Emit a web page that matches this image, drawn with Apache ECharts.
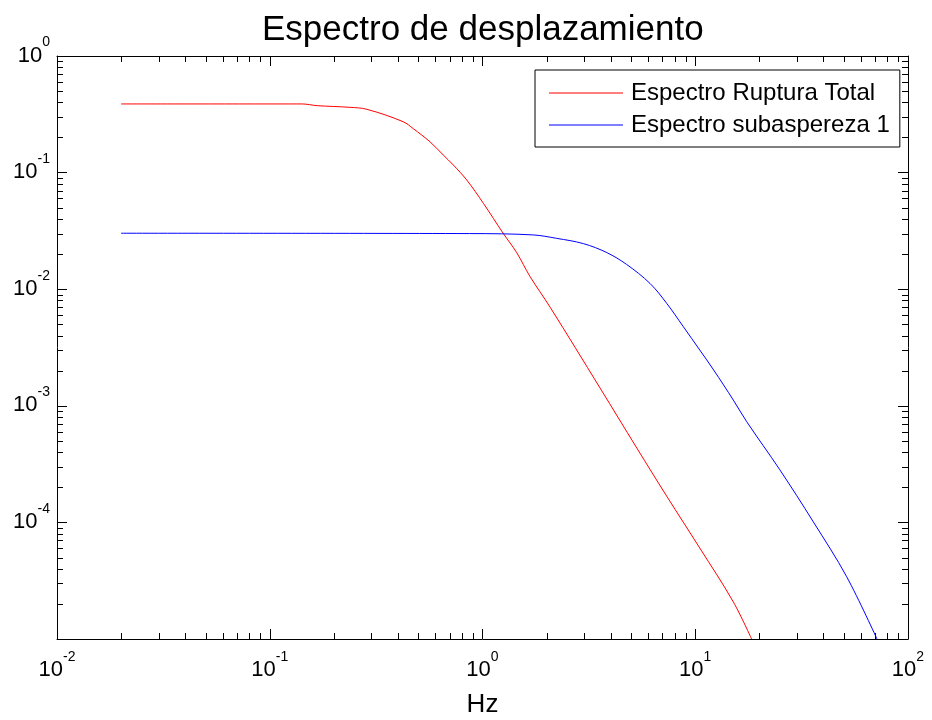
<!DOCTYPE html>
<html>
<head>
<meta charset="utf-8">
<title>Espectro de desplazamiento</title>
<script src="https://cdn.jsdelivr.net/npm/echarts@6/dist/echarts.min.js"></script>
<style>
  html, body { margin: 0; padding: 0; background: #fff; }
  #chart { width: 932px; height: 720px; }
</style>
</head>
<body>
<div id="chart"></div>
<script>
// valores (Hz, desplazamiento)
var redFreq = [0.02, 0.142, 0.167, 0.238, 0.286, 0.424, 0.473, 0.566, 0.654, 0.729, 0.843, 1.01, 1.25, 1.45, 1.67, 2.08, 3.57, 5.31, 7.34, 10.5, 15.1, 18.4];
var redAmp  = [0.388, 0.388, 0.375, 0.363, 0.349, 0.273, 0.238, 0.184, 0.1415, 0.1162, 0.0864, 0.0545, 0.0302, 0.0205, 0.0129, 0.0070, 0.00142, 4.35e-4, 1.68e-4, 6.03e-5, 2.08e-5, 1.0e-5];

var blueFreq = [0.02, 0.87, 1.73, 2.23, 2.98, 3.84, 4.76, 6.13, 7.34, 8.79, 10.5, 12.2, 15.1, 17.45, 25.0, 35.9, 51.5, 71.5];
var blueAmp  = [0.0302, 0.0300, 0.0292, 0.0273, 0.0246, 0.0206, 0.0163, 0.0112, 0.00757, 0.00477, 0.00301, 0.00203, 0.00112, 7.31e-4, 2.82e-4, 1.01e-4, 3.42e-5, 1.0e-5];

var seriesNames = ['Espectro Ruptura Total', 'Espectro subaspereza 1'];

// ejes
var xMin = 0.01, xMax = 100;
var yMin = 1e-5, yMax = 1;
var xDecades = [0.01, 0.1, 1, 10];
var yDecades = [1e-5, 1e-4, 1e-3, 1e-2, 1e-1];
var minorMult = [2, 3, 4, 5, 6, 7, 8, 9];

function pairs(xs, ys) {
  var out = [];
  for (var i = 0; i < xs.length; i++) out.push([xs[i], ys[i]]);
  return out;
}

// marcas menores: [x, y, tipo] tipo 0 = eje x, 1 = eje y
var minorTicks = [];
xDecades.forEach(function (d) {
  minorMult.forEach(function (m) { minorTicks.push([d * m, yMin, 0]); });
});
yDecades.forEach(function (d) {
  minorMult.forEach(function (m) { minorTicks.push([xMin, d * m, 1]); });
});

var FONT = 'Liberation Sans';

function powLabel(v, hideMin) {
  var e = Math.round(Math.log(v) / Math.LN10);
  if (hideMin && e <= -5) return '';
  return '{m|10}{s|' + e + '}';
}

// 10 con exponente arriba
var richPow = {
  m: { fontSize: 22, fontFamily: FONT, color: '#000', lineHeight: 31, verticalAlign: 'bottom' },
  s: { fontSize: 14, fontFamily: FONT, color: '#000', lineHeight: 14, verticalAlign: 'top' }
};

var axisBase = {
  type: 'log',
  logBase: 10,
  interval: 1,
  axisLine: { show: true, lineStyle: { color: '#000', width: 1 } },
  axisTick: { show: true, inside: true, length: 10, lineStyle: { color: '#000' } },
  splitLine: { show: false },
  minorTick: { show: false }
};

var chart = echarts.init(document.getElementById('chart'));

chart.setOption({
  backgroundColor: '#fff',
  animation: false,
  title: {
    text: 'Espectro de desplazamiento',
    left: 257,
    top: 8,
    textStyle: { fontFamily: FONT, fontSize: 35, fontWeight: 'normal', color: '#000' }
  },
  grid: { left: 57, right: 24, top: 56, bottom: 81, outerBoundsMode: 'none' },
  legend: {
    orient: 'vertical',
    left: 535,
    top: 70,
    data: seriesNames,
    icon: 'rect',
    itemWidth: 74,
    itemHeight: 1,
    itemGap: 8,
    padding: [11, 10, 10, 14],
    borderColor: '#000',
    borderWidth: 1,
    borderRadius: 0,
    backgroundColor: '#fff',
    textStyle: { fontFamily: FONT, fontSize: 24, color: '#000', padding: [0, 0, 0, 3] }
  },
  xAxis: [
    Object.assign({}, axisBase, {
      position: 'bottom',
      min: xMin, max: xMax,
      name: 'Hz',
      nameLocation: 'middle',
      nameGap: 53,
      nameTextStyle: { fontFamily: FONT, fontSize: 26, color: '#000' },
      axisLabel: { margin: 11, formatter: function (v) { return powLabel(v, false); }, rich: richPow }
    }),
    Object.assign({}, axisBase, {
      position: 'top',
      min: xMin, max: xMax,
      axisLabel: { show: false }
    })
  ],
  yAxis: [
    Object.assign({}, axisBase, {
      position: 'left',
      min: yMin, max: yMax,
      axisLabel: { margin: 7, padding: [0, 0, 10, 0], formatter: function (v) { return powLabel(v, true); }, rich: richPow }
    }),
    Object.assign({}, axisBase, {
      position: 'right',
      min: yMin, max: yMax,
      axisLabel: { show: false }
    })
  ],
  series: [
    {
      name: seriesNames[0],
      type: 'line',
      data: pairs(redFreq, redAmp),
      symbol: 'none',
      smooth: 0.35,
      lineStyle: { color: '#ff0000', width: 1 },
      itemStyle: { color: '#ff0000' }
    },
    {
      name: seriesNames[1],
      type: 'line',
      data: pairs(blueFreq, blueAmp),
      symbol: 'none',
      smooth: 0.35,
      lineStyle: { color: '#0000ff', width: 1 },
      itemStyle: { color: '#0000ff' }
    },
    {
      type: 'custom',
      silent: true,
      clip: false,
      data: minorTicks,
      renderItem: function (params, api) {
        var kind = api.value(2);
        var len = 6;
        var a, b;
        if (kind === 0) {
          a = api.coord([api.value(0), yMin]);
          b = api.coord([api.value(0), yMax]);
          var x = Math.round(a[0]) + 0.5;
          return {
            type: 'group',
            children: [
              { type: 'line', shape: { x1: x, y1: a[1], x2: x, y2: a[1] - len }, style: { stroke: '#000', lineWidth: 1 } },
              { type: 'line', shape: { x1: x, y1: b[1], x2: x, y2: b[1] + len }, style: { stroke: '#000', lineWidth: 1 } }
            ]
          };
        }
        a = api.coord([xMin, api.value(1)]);
        b = api.coord([xMax, api.value(1)]);
        var y = Math.round(a[1]) + 0.5;
        return {
          type: 'group',
          children: [
            { type: 'line', shape: { x1: a[0], y1: y, x2: a[0] + len, y2: y }, style: { stroke: '#000', lineWidth: 1 } },
            { type: 'line', shape: { x1: b[0], y1: y, x2: b[0] - len, y2: y }, style: { stroke: '#000', lineWidth: 1 } }
          ]
        };
      }
    }
  ]
});
</script>
</body>
</html>
